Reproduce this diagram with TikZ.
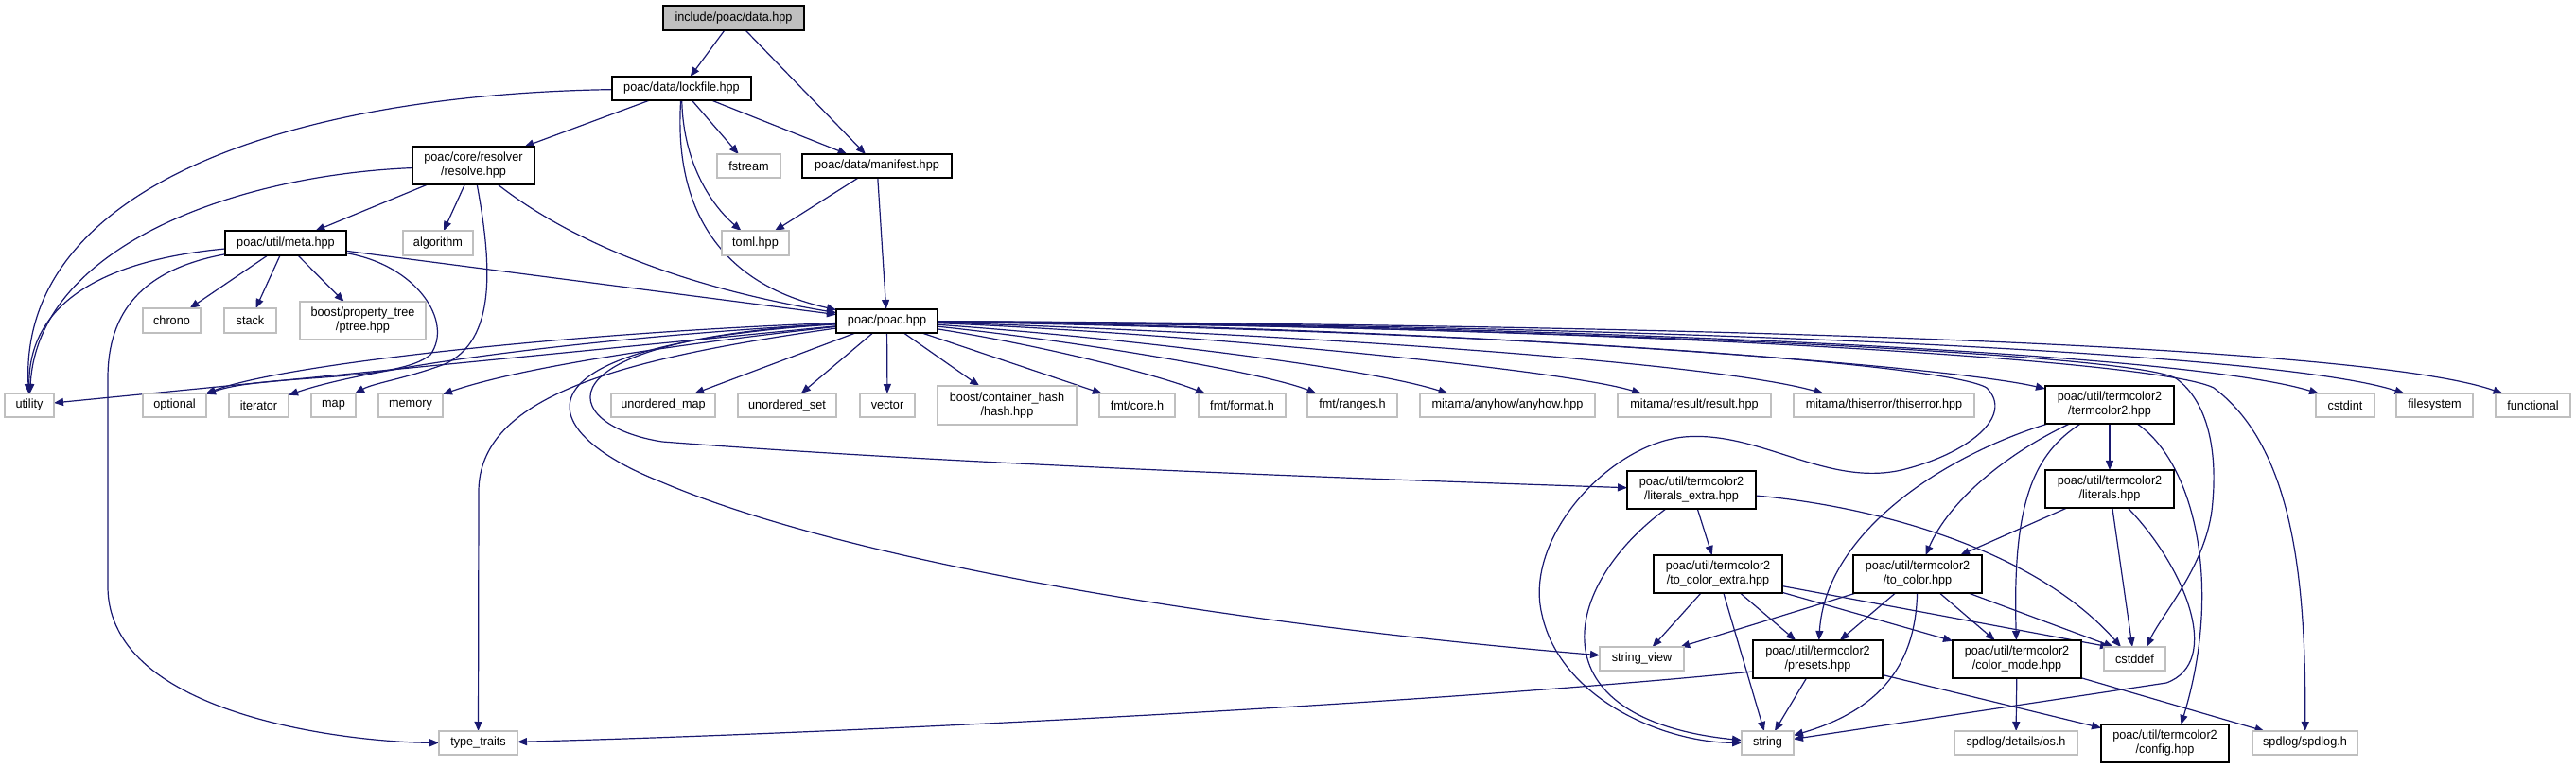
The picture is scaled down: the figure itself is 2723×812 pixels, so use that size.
\documentclass[tikz,border=0pt]{standalone}
\usepackage{fontspec}
\setmainfont{Liberation Sans}[FakeStretch=0.95]
\usetikzlibrary{arrows.meta,calc}
\pgfdeclarelayer{bg}
\pgfsetlayers{bg,main}
\definecolor{edgeblue}{HTML}{191970}
\definecolor{greyvf}{HTML}{BFBFBF}
\newcommand\mkbox[7]{\node[#6, minimum width={(#4-#2)*0.75pt}, minimum height={(#5-#3)*0.75pt}] (#1) at ({(#2+#4)/2},{(#3+#5)/2}) {#7};}
\tikzset{
 nbase/.style={align=center, inner sep=0pt, outer sep=0pt, font=\fontsize{10pt}{11.25pt}\selectfont, line width=0.9pt, fill=white},
 inbox/.style={nbase, draw=black},
 exbox/.style={nbase, draw=greyvf},
 rootbox/.style={nbase, draw=black, fill=greyvf},
 dep/.style={draw=edgeblue, line width=0.9pt, -{Triangle[length=7.5pt,width=6pt]}},
}
\begin{document}
\begin{tikzpicture}[x=0.75pt,y=-0.75pt]
\useasboundingbox (0,0) rectangle (2723,812);
% nodes
\mkbox{data}{701}{6}{850}{32}{rootbox}{include/poac/data.hpp}
\mkbox{lockfile}{647}{81}{794}{106}{inbox}{poac/data/lockfile.hpp}
\mkbox{manifest}{848}{163}{1006}{188}{inbox}{poac/data/manifest.hpp}
\mkbox{fstream}{758}{163}{825}{188}{exbox}{fstream}
\mkbox{resolve}{436}{155}{565}{195}{inbox}{poac/core/resolver\\/resolve.hpp}
\mkbox{toml}{763}{244}{834}{270}{exbox}{toml.hpp}
\mkbox{meta}{238}{244}{366}{270}{inbox}{poac/util/meta.hpp}
\mkbox{algorithm}{426}{244}{500}{270}{exbox}{algorithm}
\mkbox{chrono}{151}{326}{212}{352}{exbox}{chrono}
\mkbox{stack}{237}{326}{292}{352}{exbox}{stack}
\mkbox{ptree}{317}{319}{450}{359}{exbox}{boost/property\_tree\\/ptree.hpp}
\mkbox{poac}{884}{327}{991}{352}{inbox}{poac/poac.hpp}
\mkbox{utility}{5}{416}{57}{441}{exbox}{utility}
\mkbox{optional}{151}{416}{218}{441}{exbox}{optional}
\mkbox{iterator}{242}{416}{305}{441}{exbox}{iterator}
\mkbox{map}{329}{416}{376}{441}{exbox}{map}
\mkbox{memory}{400}{416}{468}{441}{exbox}{memory}
\mkbox{umap}{646}{416}{756}{441}{exbox}{unordered\_map}
\mkbox{uset}{780}{416}{884}{441}{exbox}{unordered\_set}
\mkbox{vector}{909}{416}{967}{441}{exbox}{vector}
\mkbox{hash}{991}{408}{1138}{449}{exbox}{boost/container\_hash\\/hash.hpp}
\mkbox{fmtcore}{1162}{416}{1242}{441}{exbox}{fmt/core.h}
\mkbox{fmtformat}{1267}{416}{1359}{441}{exbox}{fmt/format.h}
\mkbox{fmtranges}{1382}{416}{1477}{441}{exbox}{fmt/ranges.h}
\mkbox{anyhow}{1501}{416}{1686}{441}{exbox}{mitama/anyhow/anyhow.hpp}
\mkbox{result}{1710}{416}{1872}{441}{exbox}{mitama/result/result.hpp}
\mkbox{thiserror}{1896}{416}{2087}{441}{exbox}{mitama/thiserror/thiserror.hpp}
\mkbox{tc2}{2162}{408}{2298}{448}{inbox}{poac/util/termcolor2\\/termcolor2.hpp}
\mkbox{cstdint}{2448}{416}{2510}{441}{exbox}{cstdint}
\mkbox{filesystem}{2533}{416}{2614}{441}{exbox}{filesystem}
\mkbox{functional}{2638}{416}{2717}{441}{exbox}{functional}
\mkbox{litextra}{1720}{498}{1856}{538}{inbox}{poac/util/termcolor2\\/literals\_extra.hpp}
\mkbox{literals}{2162}{497}{2298}{537}{inbox}{poac/util/termcolor2\\/literals.hpp}
\mkbox{tcextra}{1748}{587}{1884}{627}{inbox}{poac/util/termcolor2\\/to\_color\_extra.hpp}
\mkbox{tocolor}{1959}{587}{2095}{627}{inbox}{poac/util/termcolor2\\/to\_color.hpp}
\mkbox{strview}{1691}{684}{1780}{709}{exbox}{string\_view}
\mkbox{presets}{1853}{677}{1990}{717}{inbox}{poac/util/termcolor2\\/presets.hpp}
\mkbox{colormode}{2064}{677}{2200}{717}{inbox}{poac/util/termcolor2\\/color\_mode.hpp}
\mkbox{cstddef}{2224}{684}{2289}{709}{exbox}{cstddef}
\mkbox{typetraits}{464}{773}{547}{798}{exbox}{type\_traits}
\mkbox{string}{1841}{773}{1896}{798}{exbox}{string}
\mkbox{osh}{2066}{773}{2196}{798}{exbox}{spdlog/details/os.h}
\mkbox{config}{2221}{766}{2356}{806}{inbox}{poac/util/termcolor2\\/config.hpp}
\mkbox{spdlog}{2381}{773}{2492}{798}{exbox}{spdlog/spdlog.h}
% edges
\begin{pgfonlayer}{bg}
\draw[dep] (data) -- (lockfile);
\draw[dep] (data) -- (manifest);
\draw[dep] (lockfile) .. controls (300,100) and (20,200) .. (utility);
\draw[dep] (lockfile) -- (resolve);
\draw[dep] (lockfile) -- (fstream);
\draw[dep] (lockfile) .. controls (722,170) and (750,215) .. (toml);
\draw[dep] (lockfile) -- (manifest);
\draw[dep] (lockfile) .. controls (712,220) and (760,300) .. (poac);
\draw[dep] (manifest) -- (toml);
\draw[dep] (manifest) -- (poac);
\draw[dep] (resolve) .. controls (250,185) and (40,260) .. (utility);
\draw[dep] (resolve) -- (meta);
\draw[dep] (resolve) -- (algorithm);
\draw[dep] (resolve) .. controls (590,245) and (700,300) .. (poac);
\draw[dep] (resolve) .. controls (520,280) and (525,360) .. (470,385) .. controls (430,400) and (395,405) .. (map);
\draw[dep] (meta) .. controls (110,275) and (30,320) .. (utility);
\draw[dep] (meta) .. controls (150,285) and (114,330) .. (114,400) -- (114,620) .. controls (114,760) and (380,785) .. (typetraits);
\draw[dep] (meta) -- (chrono);
\draw[dep] (meta) -- (stack);
\draw[dep] (meta) -- (ptree);
\draw[dep] (meta) -- (poac);
\draw[dep] (meta) .. controls (440,280) and (480,340) .. (455,375) .. controls (420,405) and (280,395) .. (optional);
% from poac
\draw[dep] (poac) -- (utility);
\draw[dep] (poac) .. controls (600,352) and (300,385) .. (optional);
\draw[dep] (poac) .. controls (650,355) and (400,385) .. (iterator);
\draw[dep] (poac) .. controls (750,360) and (560,385) .. (memory);
\draw[dep] (poac) .. controls (650,380) and (506,420) .. (506,520) -- (typetraits);
\draw[dep] (poac) .. controls (530,365) and (560,455) .. (700,510) .. controls (900,595) and (1300,660) .. (strview);
\draw[dep] (poac) .. controls (560,360) and (590,450) .. (700,467) .. controls (1000,490) and (1400,505) .. (litextra);
\draw[dep] (poac) -- (umap);
\draw[dep] (poac) -- (uset);
\draw[dep] (poac) -- (vector);
\draw[dep] (poac) -- (hash);
\draw[dep] (poac) -- (fmtcore);
\draw[dep] (poac) .. controls (1100,365) and (1220,395) .. ($(fmtformat.north)+(-39,0)$);
\draw[dep] (poac) .. controls (1150,362) and (1340,395) .. ($(fmtranges.north)+(-38,0)$);
\draw[dep] (poac) .. controls (1200,358) and (1450,390) .. ($(anyhow.north)+(-63,0)$);
\draw[dep] (poac) .. controls (1250,352) and (1650,390) .. ($(result.north)+(-56,0)$);
\draw[dep] (poac) .. controls (1300,350) and (1800,380) .. ($(thiserror.north)+(-64,0)$);
\draw[dep] (poac) .. controls (1500,345) and (2050,385) .. ($(tc2.north west)+(0,3)$);
\draw[dep] (poac) .. controls (1600,343) and (2300,370) .. ($(cstdint.north)+(-28,0)$);
\draw[dep] (poac) .. controls (1700,343) and (2400,370) .. ($(filesystem.north)+(-32,0)$);
\draw[dep] (poac) .. controls (1800,343) and (2500,365) .. ($(functional.north)+(-32,0)$);
\draw[dep] (poac) .. controls (1600,345) and (2250,372) .. (2300,400) .. controls (2335,425) and (2345,480) .. (2338,540) .. controls (2330,600) and (2285,650) .. ($(cstddef.north west)+(45,0)$);
\draw[dep] (poac) .. controls (1700,345) and (2280,380) .. (2340,410) .. controls (2420,470) and (2438,600) .. (spdlog);
\draw[dep] (poac) .. controls (1600,350) and (2060,385) .. (2100,410) .. controls (2130,440) and (2080,480) .. (2010,497) .. controls (1930,515) and (1860,455) .. (1780,462) .. controls (1700,470) and (1610,570) .. (1630,650) .. controls (1650,740) and (1760,785) .. (string);
% termcolor2 area
\draw[dep] (tc2) -- (literals);
\draw[dep] (tc2) .. controls (2120,480) and (2060,530) .. (tocolor);
\draw[dep] (tc2) .. controls (2060,480) and (1930,560) .. (presets);
\draw[dep] (tc2) .. controls (2150,480) and (2127,530) .. (colormode);
\draw[dep] (tc2) .. controls (2320,490) and (2350,620) .. ($(config.north)+(17,0)$);
\draw[dep] (literals) -- (tocolor);
\draw[dep] (literals) -- ($(cstddef.north west)+(30,0)$);
\draw[dep] (literals) .. controls (2310,600) and (2350,700) .. (2290,722) -- (string);
\draw[dep] (litextra) -- (tcextra);
\draw[dep] (litextra) .. controls (1650,620) and (1620,760) .. (string);
\draw[dep] (litextra) .. controls (1980,535) and (2150,580) .. ($(cstddef.north west)+(18,0)$);
\draw[dep] (tcextra) -- (strview);
\draw[dep] (tcextra) -- (string);
\draw[dep] (tcextra) -- (presets);
\draw[dep] (tcextra) -- (colormode);
\draw[dep] (tcextra) -- ($(cstddef.north west)+(6,0)$);
\draw[dep] (tocolor) -- (strview);
\draw[dep] (tocolor) -- (presets);
\draw[dep] (tocolor) .. controls (2025,700) and (1990,750) .. (string);
\draw[dep] (tocolor) -- (colormode);
\draw[dep] (tocolor) -- ($(cstddef.north west)+(10,0)$);
\draw[dep] (presets) -- (string);
\draw[dep] (presets) -- (config);
\draw[dep] ($(presets.west)+(0,13)$) .. controls (1500,745) and (900,775) .. (typetraits);
\draw[dep] (colormode) -- (osh);
\draw[dep] (colormode) -- (spdlog);
\end{pgfonlayer}
\end{tikzpicture}
\end{document}
